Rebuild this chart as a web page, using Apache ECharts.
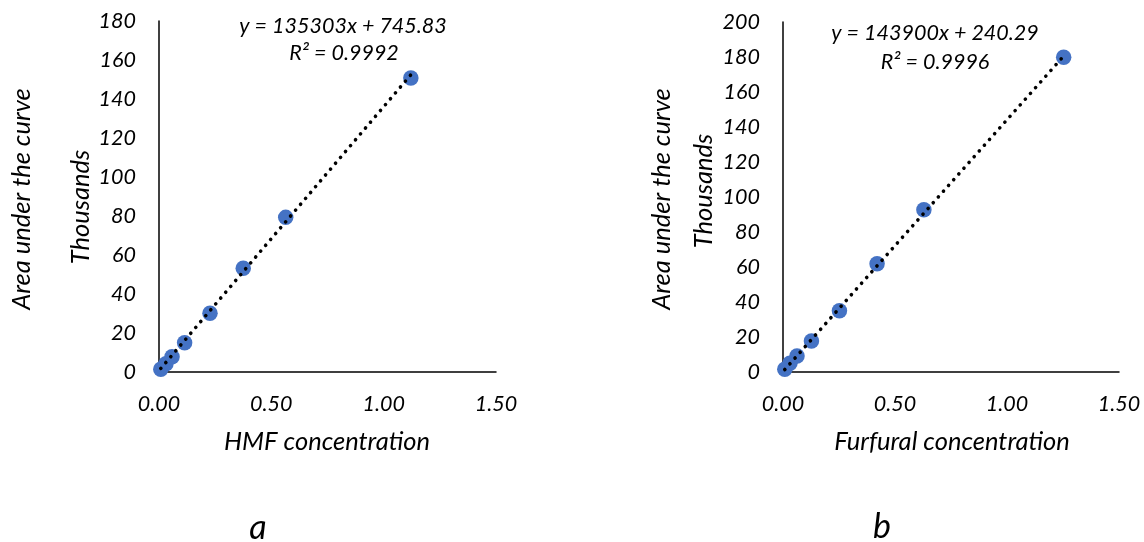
<!DOCTYPE html>
<html>
<head>
<meta charset="utf-8">
<script src="https://cdn.jsdelivr.net/npm/echarts@6/dist/echarts.min.js"></script>
<style>
html,body{margin:0;padding:0;background:#fff;}
#chart{width:1144px;height:542px;}
</style>
</head>
<body>
<div id="chart"></div>
<script>
// Data (y values in thousands)
const hmfConc = [0.008, 0.031, 0.058, 0.114, 0.227, 0.375, 0.564, 1.121];
const hmfArea = [1.4, 4.2, 7.8, 15.0, 30.1, 53.2, 79.3, 150.8];
const furConc = [0.008, 0.031, 0.0625, 0.127, 0.252, 0.420, 0.629, 1.253];
const furArea = [1.6, 5.0, 9.2, 17.7, 35.0, 61.9, 92.7, 179.8];
// Trendline equations as printed on the chart
const hmfFit = {slope: 135303, intercept: 745.83, r2: '0.9992'};
const furFit = {slope: 143900, intercept: 240.29, r2: '0.9996'};
const xTicks = [0, 0.5, 1.0, 1.5];

const FONT = 'Lato';
const pts = (xs, ys) => xs.map((x, i) => [x, ys[i]]);
const trend = (xs, fit) => {
  const a = Math.min(...xs), b = Math.max(...xs);
  return [a, b].map(x => [x, (fit.slope * x + fit.intercept) / 1000]);
};

const axisLineStyle = {color: '#000', width: 1.5};
const xAxisCfg = (gi) => ({
  gridIndex: gi, type: 'value', min: xTicks[0], max: xTicks[xTicks.length - 1], interval: 0.5,
  axisLine: {show: true, onZero: false, lineStyle: axisLineStyle},
  axisTick: {show: false}, splitLine: {show: false},
  axisLabel: {formatter: v => v.toFixed(2), fontFamily: FONT, fontStyle: 'italic', fontSize: 21.5, color: '#000', margin: 21}
});
const yAxisCfg = (gi, max) => ({
  gridIndex: gi, type: 'value', min: 0, max: max, interval: 20,
  axisLine: {show: true, onZero: false, lineStyle: axisLineStyle},
  axisTick: {show: false}, splitLine: {show: false},
  axisLabel: {fontFamily: FONT, fontStyle: 'italic', fontSize: 21.5, color: '#000', margin: 23}
});
const scatter = (gi, data) => ({
  type: 'scatter', xAxisIndex: gi, yAxisIndex: gi, data: data,
  symbolSize: 15.5, itemStyle: {color: '#4472C4', opacity: 1}, z: 2
});
const trendLine = (gi, data) => ({
  type: 'line', xAxisIndex: gi, yAxisIndex: gi, data: data, symbol: 'none',
  lineStyle: {color: '#000', width: 3.6, type: [0.1, 7.6], cap: 'round'}, z: 3, silent: true
});
const txt = (x, y, text, size, rot) => ({
  type: 'text', x: x, y: y, rotation: rot || 0,
  style: {text: text, fontFamily: FONT, fontStyle: 'italic', fontSize: size, fill: '#000', align: 'center', verticalAlign: 'middle'}
});

const chart = echarts.init(document.getElementById('chart'), null, {renderer: 'canvas'});
chart.setOption({
  backgroundColor: '#fff',
  animation: false,
  grid: [
    {left: 159, top: 21, width: 337, height: 351},
    {left: 783, top: 22, width: 336, height: 350}
  ],
  xAxis: [xAxisCfg(0), xAxisCfg(1)],
  yAxis: [yAxisCfg(0, 180), yAxisCfg(1, 200)],
  series: [
    scatter(0, pts(hmfConc, hmfArea)),
    trendLine(0, trend(hmfConc, hmfFit)),
    scatter(1, pts(furConc, furArea)),
    trendLine(1, trend(furConc, furFit))
  ],
  graphic: [
    txt(22, 199, 'Area under the curve', 25.5, Math.PI / 2),
    txt(81, 207, 'Thousands', 25.5, Math.PI / 2),
    txt(662, 199, 'Area under the curve', 25.5, Math.PI / 2),
    txt(704, 191, 'Thousands', 25.5, Math.PI / 2),
    txt(327, 442, 'HMF concentration', 25.5),
    txt(952, 442, 'Furfural concentration', 25.5),
    txt(343, 26, 'y = ' + hmfFit.slope + 'x + ' + hmfFit.intercept.toFixed(2), 21.5),
    txt(344, 53, 'R² = ' + hmfFit.r2, 21.5),
    txt(935, 33, 'y = ' + furFit.slope + 'x + ' + furFit.intercept.toFixed(2), 21.5),
    txt(935, 62, 'R² = ' + furFit.r2, 21.5),
    txt(258, 528, 'a', 34),
    txt(882, 527, 'b', 34)
  ]
});
</script>
</body>
</html>
